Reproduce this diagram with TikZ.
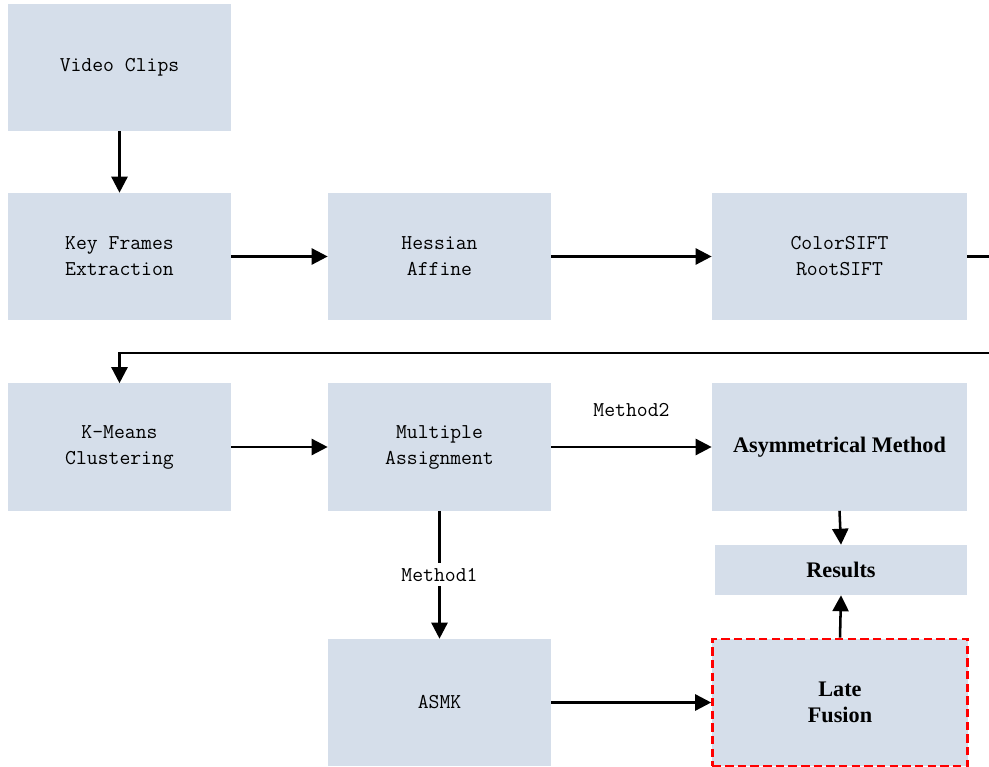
\documentclass[tikz,border=0pt]{standalone}
\usepackage{fontspec}
\newfontfamily\boldserif{Liberation Serif}
\usetikzlibrary{arrows.meta}
\definecolor{boxblue}{RGB}{213,222,234}
\tikzset{
  stepbox/.style={fill=boxblue, minimum width=5.575cm, minimum height=3.175cm,
    align=center, font=\ttfamily\fontsize{15}{18.5}\selectfont},
  widebox/.style={stepbox, minimum width=6.375cm,
    font=\boldserif\bfseries\fontsize{15.8}{18.5}\selectfont},
  flow/.style={line width=1.8pt, -{Triangle[length=4mm,width=4mm]}},
  tag/.style={font=\ttfamily\fontsize{15}{18.5}\selectfont}
}

\begin{document}
\begin{tikzpicture}[x=0.025cm, y=-0.025cm]
				\useasboundingbox (0, 0) rectangle (989, 767);
				
				% first row
				\node[stepbox] (clips) at (119.5, 67.5) {Video Clips};
				\node[stepbox] (keyframes) at (119.5, 256.5) {Key Frames\\Extraction};
				\node[stepbox] (hessian) at (439.5, 256.5) {Hessian\\Affine};
				\node[stepbox, minimum width=6.375cm] (sift) at (839.5, 256.5) {ColorSIFT\\RootSIFT};
				
				% second row
				\node[stepbox] (kmeans) at (119.5, 447) {K-Means\\Clustering};
				\node[stepbox] (assign) at (439.5, 447) {Multiple\\Assignment};
				\node[widebox] (asym) at (839.5, 447) {Asymmetrical Method};
				\node[widebox, minimum width=6.3cm, minimum height=1.25cm] (results) at (841, 570) {Results};
				
				% third row
				\node[stepbox] (asmk) at (439.5, 702.5) {ASMK};
				\node[widebox, draw=red, line width=1.8pt, dash pattern=on 6pt off 3pt] (fusion) at (840, 702.5) {Late\\Fusion};
				
				\coordinate (turnA) at (1000, 256.5);
				\coordinate (turnB) at (1000, 353);
				
				\draw[flow] (clips) -- (keyframes);
				\draw[flow] (keyframes) -- (hessian);
				\draw[flow] (hessian) -- (sift);
				\draw[flow] (sift.east) -- (turnA) -- (turnB) -| (kmeans.north);
				\draw[flow] (kmeans) -- (assign);
				\draw[flow] (assign) -- node[tag, above=0.6cm] {Method2} (asym);
				\draw[flow] (assign) -- node[tag, fill=white, pos=0.5] {Method1} (asmk);
				\draw[flow] (asmk) -- (fusion);
				\draw[flow] (asym.south) -- (results.north);
				\draw[flow] (fusion.north) -- (results.south);
			\end{tikzpicture}
\end{document}
